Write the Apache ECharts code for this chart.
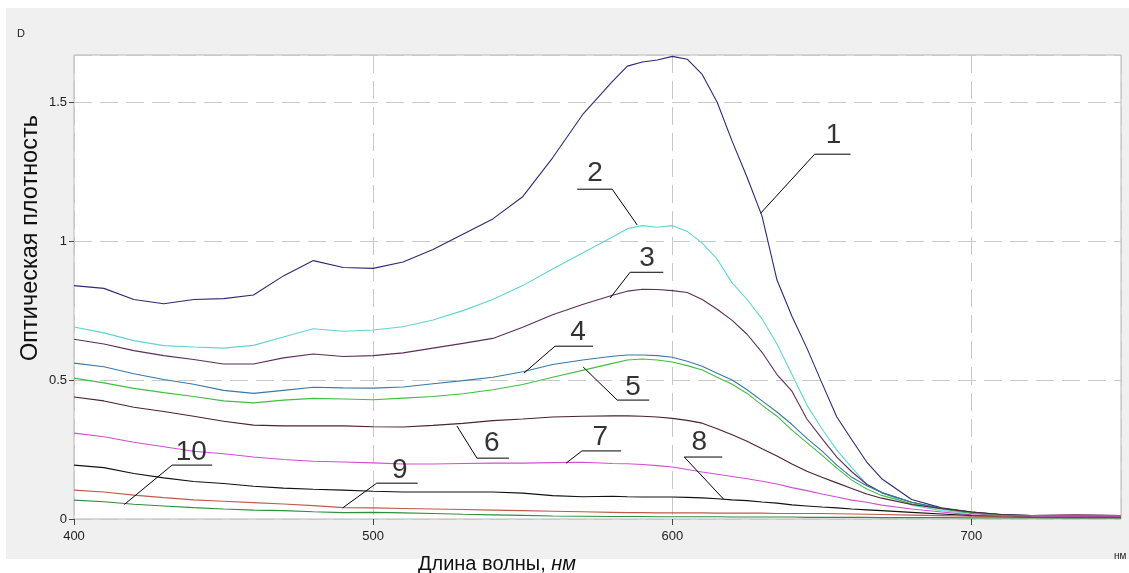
<!DOCTYPE html>
<html>
<head>
<meta charset="utf-8">
<script src="https://cdn.jsdelivr.net/npm/echarts@6/dist/echarts.min.js"></script>
<style>
html,body{margin:0;padding:0;background:#fff;overflow:hidden;}
#chart{width:1129px;height:573px;}
</style>
</head>
<body>
<div id="chart"></div>
<script>
// Wavelength grid (nm)
const wl = [400,410,420,430,440,450,460,470,480,490,500,510,520,530,540,550,560,570,580,585,590,595,600,605,610,615,620,625,630,635,640,645,650,655,660,665,670,680,690,700,710,720,735,750];

// Optical density, curves 1..10
const c1 = [0.84,0.83,0.79,0.775,0.79,0.793,0.806,0.875,0.93,0.905,0.902,0.925,0.97,1.025,1.08,1.16,1.3,1.455,1.575,1.63,1.645,1.652,1.665,1.655,1.6,1.5,1.36,1.23,1.09,0.86,0.73,0.615,0.49,0.367,0.285,0.205,0.145,0.07,0.04,0.025,0.015,0.012,0.015,0.012];
const c2 = [0.691,0.67,0.642,0.624,0.619,0.615,0.625,0.655,0.685,0.676,0.68,0.692,0.716,0.75,0.79,0.84,0.9,0.957,1.015,1.045,1.056,1.05,1.056,1.035,0.993,0.935,0.85,0.79,0.72,0.63,0.52,0.41,0.325,0.248,0.185,0.125,0.095,0.05,0.03,0.02,0.013,0.01,0.012,0.01];
const c3 = [0.647,0.63,0.606,0.588,0.574,0.558,0.558,0.58,0.594,0.585,0.588,0.598,0.615,0.632,0.65,0.69,0.735,0.772,0.805,0.82,0.827,0.826,0.822,0.815,0.79,0.755,0.715,0.665,0.6,0.52,0.46,0.36,0.29,0.223,0.17,0.125,0.095,0.06,0.038,0.022,0.014,0.01,0.01,0.008];
const c4 = [0.561,0.548,0.523,0.502,0.485,0.463,0.452,0.463,0.474,0.472,0.471,0.475,0.487,0.498,0.51,0.53,0.556,0.572,0.586,0.59,0.59,0.588,0.582,0.568,0.55,0.525,0.5,0.465,0.425,0.385,0.34,0.29,0.245,0.194,0.15,0.12,0.095,0.06,0.038,0.025,0.016,0.012,0.012,0.01];
const c5 = [0.507,0.49,0.47,0.455,0.441,0.425,0.418,0.428,0.434,0.432,0.429,0.435,0.441,0.451,0.465,0.484,0.51,0.535,0.56,0.572,0.576,0.572,0.565,0.552,0.536,0.51,0.485,0.452,0.41,0.37,0.32,0.275,0.23,0.183,0.14,0.108,0.085,0.055,0.036,0.022,0.014,0.01,0.01,0.008];
const c6 = [0.439,0.425,0.402,0.387,0.37,0.352,0.338,0.335,0.335,0.335,0.332,0.331,0.337,0.344,0.354,0.36,0.367,0.37,0.371,0.371,0.37,0.367,0.362,0.355,0.345,0.325,0.303,0.28,0.253,0.227,0.198,0.172,0.15,0.13,0.11,0.09,0.075,0.052,0.038,0.025,0.016,0.012,0.01,0.008];
const c7 = [0.309,0.296,0.276,0.26,0.244,0.235,0.223,0.214,0.208,0.205,0.202,0.198,0.198,0.2,0.201,0.201,0.203,0.204,0.2,0.199,0.196,0.192,0.187,0.178,0.169,0.161,0.153,0.145,0.136,0.126,0.113,0.102,0.09,0.079,0.068,0.06,0.05,0.036,0.025,0.015,0.012,0.01,0.01,0.01];
const c8 = [0.194,0.185,0.164,0.148,0.135,0.128,0.118,0.111,0.107,0.104,0.1,0.097,0.097,0.097,0.097,0.093,0.084,0.08,0.082,0.08,0.079,0.079,0.079,0.078,0.076,0.073,0.069,0.066,0.061,0.057,0.051,0.047,0.043,0.04,0.036,0.033,0.03,0.024,0.018,0.012,0.008,0.006,0.005,0.005];
const c9 = [0.104,0.097,0.086,0.077,0.069,0.064,0.059,0.054,0.048,0.041,0.04,0.038,0.036,0.034,0.032,0.03,0.028,0.026,0.024,0.023,0.023,0.022,0.022,0.022,0.022,0.021,0.021,0.021,0.021,0.02,0.02,0.02,0.02,0.019,0.018,0.017,0.016,0.014,0.012,0.01,0.01,0.012,0.014,0.012];
const c10 = [0.068,0.062,0.053,0.047,0.041,0.036,0.032,0.03,0.026,0.023,0.024,0.022,0.02,0.017,0.015,0.013,0.011,0.01,0.009,0.009,0.009,0.008,0.008,0.008,0.008,0.008,0.007,0.007,0.007,0.007,0.007,0.006,0.006,0.006,0.006,0.006,0.005,0.005,0.005,0.004,0.004,0.004,0.004,0.004];

const curveNames = ['1','2','3','4','5','6','7','8','9','10'];
const curveColors = ['#2b2b74','#5fd4d4','#5c2e5c','#3b78a8','#3fbf3f','#4d2232','#d24ed2','#111111','#bf5a4c','#2f8f3a'];

// Leader lines for curve numbers, in data coordinates: [point on curve, elbow, end of underline]
const leaders = [
  [[629.5,1.100],[647.6,1.313],[659.6,1.313]],
  [[588.3,1.058],[579.9,1.187],[568.2,1.187]],
  [[579.2,0.795],[585.9,0.888],[597.0,0.888]],
  [[550.4,0.525],[560.8,0.622],[573.5,0.622]],
  [[570.2,0.547],[581.6,0.428],[592.3,0.428]],
  [[528.0,0.335],[534.7,0.219],[545.4,0.219]],
  [[564.5,0.201],[569.8,0.245],[582.9,0.245]],
  [[617.1,0.072],[604.0,0.223],[616.7,0.223]],
  [[489.8,0.040],[501.2,0.129],[514.9,0.129]],
  [[416.8,0.052],[432.8,0.194],[446.2,0.194]]
];
// Number text centres, data coordinates
const labelPos = [[653.9,1.381],[574.2,1.245],[591.6,0.939],[568.5,0.673],[586.9,0.475],[539.7,0.273],[575.9,0.295],[609.0,0.277],[508.9,0.176],[439.2,0.241]];

const xTicks = {min:400, max:750, interval:100};
const yTicks = {min:0, max:1.67, interval:0.5};

const curves = [c1,c2,c3,c4,c5,c6,c7,c8,c9,c10];
const font = "'Liberation Sans', Arial, sans-serif";

const series = [];
curves.forEach((c, i) => {
  series.push({
    name: curveNames[i], type: 'line', data: wl.map((x, k) => [x, c[k]]),
    symbol: 'none', smooth: false, silent: true, z: 3,
    lineStyle: {color: curveColors[i], width: 1.1}
  });
});
leaders.forEach((pts) => {
  series.push({
    type: 'line', data: pts, symbol: 'none', silent: true, z: 5,
    lineStyle: {color: '#000', width: 1}
  });
});
series.push({
  type: 'scatter', symbolSize: 0, silent: true, z: 6,
  data: labelPos.map((p, i) => ({name: curveNames[i], value: p})),
  label: {show: true, position: 'inside', formatter: '{b}', fontSize: 28, color: '#000', fontFamily: font}
});

const chart = echarts.init(document.getElementById('chart'), null, {renderer: 'canvas', width: 1129, height: 573});
chart.setOption({
  animation: false,
  backgroundColor: '#ffffff',
  grid: {left: 74, top: 55, right: 8, bottom: 54, show: true, backgroundColor: '#ffffff', borderColor: '#b8b8b8', borderWidth: 1},
  xAxis: {
    type: 'value', min: xTicks.min, max: xTicks.max, interval: xTicks.interval,
    axisLine: {show: false},
    axisTick: {show: true, length: 6, lineStyle: {color: '#444'}},
    axisLabel: {color: '#222', fontSize: 13, margin: 11, fontFamily: font, showMaxLabel: false},
    splitLine: {show: true, lineStyle: {color: '#c8c8c8', type: [18, 8], width: 1}}
  },
  yAxis: {
    type: 'value', min: yTicks.min, max: yTicks.max, interval: yTicks.interval,
    axisLine: {show: false},
    axisTick: {show: true, length: 5, lineStyle: {color: '#444'}},
    axisLabel: {color: '#222', fontSize: 13, margin: 7, fontFamily: font, showMaxLabel: false},
    splitLine: {show: true, lineStyle: {color: '#c8c8c8', type: [18, 8], width: 1}}
  },
  graphic: {elements: [
    {type: 'rect', z: -100, silent: true, shape: {x: 6, y: 8, width: 1123, height: 551}, style: {fill: '#f0f0f0'}},
    {type: 'text', z: 10, x: 17, y: 34, style: {text: 'D', font: '11px ' + font, fill: '#222', textVerticalAlign: 'middle'}},
    {type: 'text', z: 10, x: 1114, y: 556, style: {text: 'нм', font: '10px ' + font, fill: '#222', textVerticalAlign: 'middle'}},
    {type: 'text', z: 10, x: 31, y: 238, rotation: Math.PI / 2,
      style: {text: 'Оптическая плотность', font: '23.5px ' + font, fill: '#111', textAlign: 'center', textVerticalAlign: 'middle'}},
    {type: 'text', z: 10, x: 497, y: 564,
      style: {text: '{n|Длина волны, }{i|нм}', textAlign: 'center', textVerticalAlign: 'middle', fill: '#111',
        rich: {n: {fontSize: 20, fontFamily: font, fill: '#111'}, i: {fontSize: 20, fontFamily: font, fontStyle: 'italic', fill: '#111'}}}}
  ]},
  series: series
});
</script>
</body>
</html>
